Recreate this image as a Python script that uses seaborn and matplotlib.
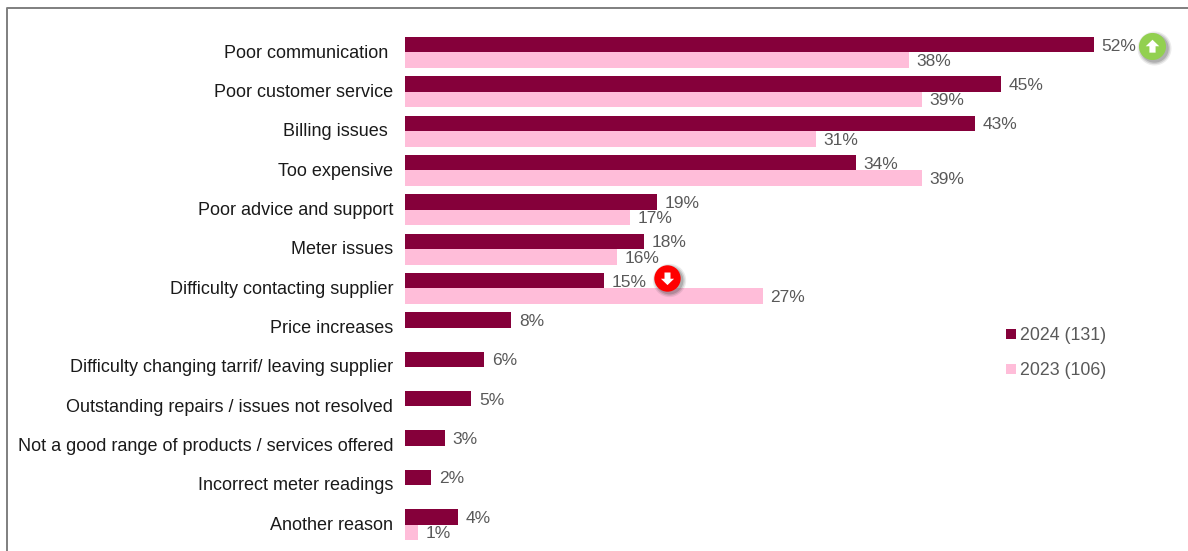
import numpy as np
import pandas as pd
import matplotlib
matplotlib.use("Agg")
import matplotlib.pyplot as plt
import matplotlib.transforms as mtransforms
from matplotlib.lines import Line2D
from matplotlib.path import Path
import seaborn as sns

categories = [
    "Poor communication ",
    "Poor customer service",
    "Billing issues ",
    "Too expensive",
    "Poor advice and support",
    "Meter issues",
    "Difficulty contacting supplier",
    "Price increases",
    "Difficulty changing tarrif/ leaving supplier",
    "Outstanding repairs / issues not resolved",
    "Not a good range of products / services offered",
    "Incorrect meter readings",
    "Another reason",
]
values_2024 = [52, 45, 43, 34, 19, 18, 15, 8, 6, 5, 3, 2, 4]
values_2023 = [38, 39, 31, 39, 17, 16, 27, np.nan, np.nan, np.nan, np.nan, np.nan, 1]
series_names = ["2024 (131)", "2023 (106)"]

W, H = 1188, 551
DARK = "#85003A"
PINK = "#FFBDD9"
TEXT_GREY = "#595959"

sns.set_theme(style="white")
plt.rcParams["font.family"] = ["Liberation Sans", "DejaVu Sans"]

frame = pd.DataFrame({
    "reason": categories * 2,
    "share": values_2024 + values_2023,
    "wave": [series_names[0]] * 13 + [series_names[1]] * 13,
})

fig = plt.figure(figsize=(W / 100, H / 100), dpi=100, facecolor="white")
ax = fig.add_axes([405 / W, 1 - 544.2 / H, 700 / W, 511.5 / H])

sns.barplot(
    data=frame, y="reason", x="share", hue="wave", order=categories,
    palette=[DARK, PINK], orient="h", width=0.79, gap=0, saturation=1,
    legend=False, linewidth=0, ax=ax,
)
ax.set_xlim(0, 700 / 13.25)
ax.set_ylim(12.5, -0.5)
ax.set_xlabel("")
ax.set_ylabel("")
ax.xaxis.set_visible(False)
sns.despine(ax=ax, left=True, bottom=True, top=True, right=True)
ax.patch.set_alpha(0)
ax.tick_params(axis="y", length=0, pad=8.5, labelsize=13, labelcolor="#1A1A1A")

# Nudge the category labels up slightly relative to the row centres
label_shift = mtransforms.ScaledTranslation(0, 0.9 / 72, fig.dpi_scale_trans)
for tick_label in ax.get_yticklabels():
    tick_label.set_transform(tick_label.get_transform() + label_shift)

# Percentage labels just past each bar end
for row, (a, b) in enumerate(zip(values_2024, values_2023)):
    ax.annotate(f"{a}%", (a, row - 0.16), xytext=(5.6, 0), textcoords="offset points",
                va="center", ha="left", fontsize=12.5, color=TEXT_GREY, clip_on=False)
    if not np.isnan(b):
        ax.annotate(f"{b:.0f}%", (b, row + 0.23), xytext=(5.6, 0), textcoords="offset points",
                    va="center", ha="left", fontsize=12.5, color=TEXT_GREY, clip_on=False)

# Block arrow used inside the significance badges
up_arrow = Path([(-0.55, 0.02), (0, 0.55), (0.55, 0.02), (0.25, 0.02), (0.25, -0.5),
                 (-0.25, -0.5), (-0.25, 0.02), (-0.55, 0.02)], closed=True)
down_arrow = Path(up_arrow.vertices * np.array([1, -1]), closed=True)


def badge(value, row, dx, dy, colour, arrow, size):
    base = mtransforms.offset_copy(ax.transData, fig=fig, x=dx, y=dy, units="points")
    for grow, alpha in ((5, 0.10), (3, 0.16), (1, 0.22)):
        shadow = mtransforms.offset_copy(ax.transData, fig=fig, x=dx + 1.6, y=dy - 1.8, units="points")
        ax.plot([value], [row], marker="o", ms=size + grow, color="#404040", mew=0,
                alpha=alpha, transform=shadow, clip_on=False, zorder=5)
    ax.plot([value], [row], marker="o", ms=size, color=colour, mew=0,
            transform=base, clip_on=False, zorder=6)
    ax.plot([value], [row], marker=arrow, ms=size * 0.5, color="white", mew=0,
            transform=base, clip_on=False, zorder=7)


badge(values_2024[0], 0, 41.7, 4.6, "#92D050", up_arrow, 19.5)
badge(values_2024[6], 6, 45.7, 7.6, "#FF0000", down_arrow, 19)

# Legend with small square keys
handles = [Line2D([], [], ls="", marker="s", ms=7.2, color=c, mew=0) for c in (DARK, PINK)]
fig.legend(handles, series_names, loc="center left",
           bbox_to_anchor=(988 / W, 1 - 353.3 / H), frameon=False, fontsize=12.8,
           labelcolor=TEXT_GREY, labelspacing=1.0, handletextpad=-0.325, borderpad=0,
           handlelength=1.6)

# Panel outline along the top and left edges
fig.add_artist(Line2D([6.5 / W, 6.5 / W, 1], [0, 1 - 7.5 / H, 1 - 7.5 / H],
                      transform=fig.transFigure, color="#7F7F7F", lw=1.4))

fig.savefig("out.png", dpi=100)
